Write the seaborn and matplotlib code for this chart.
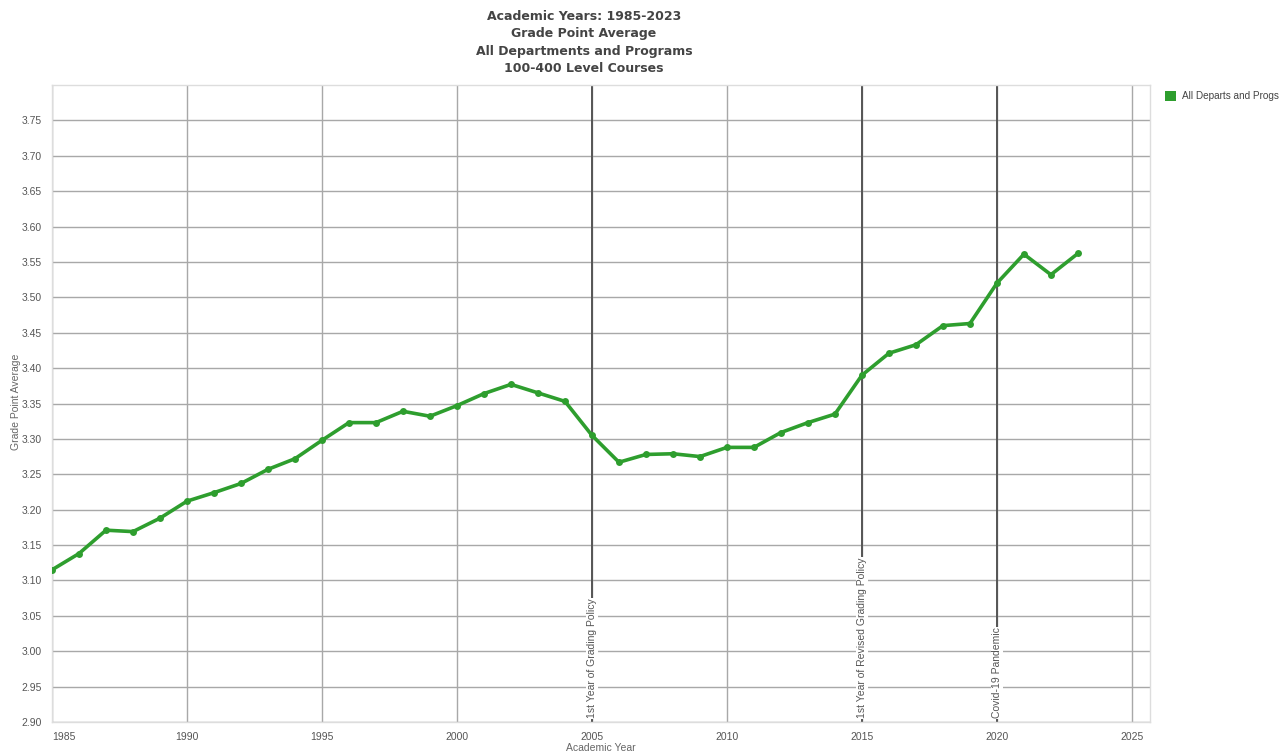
import numpy as np
import pandas as pd
import seaborn as sns
import matplotlib.pyplot as plt

# GPA by academic year
years = list(range(1985, 2024))
gpa = [3.115, 3.138, 3.171, 3.169, 3.188, 3.212, 3.224, 3.237, 3.257, 3.272,
       3.298, 3.323, 3.323, 3.339, 3.332, 3.347, 3.364, 3.377, 3.365, 3.353,
       3.305, 3.267, 3.278, 3.279, 3.275, 3.288, 3.288, 3.309, 3.323, 3.335,
       3.390, 3.421, 3.433, 3.460, 3.463, 3.520, 3.561, 3.532, 3.562]

event_years = [2005, 2015, 2020]
event_labels = ["1st Year of Grading Policy", "1st Year of Revised Grading Policy",
                "Covid-19 Pandemic"]

title_lines = ["Academic Years: 1985-2023", "Grade Point Average",
               "All Departments and Programs", "100-400 Level Courses"]
series_name = "All Departs and Progs"

df = pd.DataFrame({"Academic Year": years, "GPA": gpa, "series": series_name})

sns.set_style("white")
plt.rcParams['font.family'] = ['Liberation Sans', 'DejaVu Sans']

W, H = 1286, 755
fig = plt.figure(figsize=(W / 100, H / 100), dpi=100)
ax = fig.add_axes([52 / W, 1 - 722 / H, (1150 - 52) / W, (722 - 85) / H])

green = "#2e9e2e"
sns.lineplot(data=df, x="Academic Year", y="GPA", hue="series", palette=[green],
             marker="o", markersize=5, markeredgewidth=0, linewidth=2.6, ax=ax,
             legend=False, zorder=5)

ax.set_xlim(1985, 2025.67)
ax.set_ylim(2.90, 3.80)
yt = np.round(np.arange(2.90, 3.751, 0.05), 2)
ax.set_yticks(yt)
ax.set_yticklabels([f"{v:.2f}" for v in yt])
ax.set_xticks(range(1985, 2026, 5))
ax.set_xticks(range(1985, 2026), minor=True)

ax.grid(True, which="major", color="#a8a8a8", linewidth=1.0, zorder=0)
ax.set_axisbelow(True)

for s in ax.spines.values():
    s.set_color("#dddddd")
    s.set_linewidth(1.0)

ax.tick_params(axis="both", which="major", labelsize=7.5, labelcolor="#555555",
               color="#cccccc", length=4, direction="out")
ax.tick_params(axis="x", which="minor", color="#cccccc", length=3, direction="out")
ax.tick_params(axis="x", pad=3)
for lbl in ax.get_xticklabels():
    if lbl.get_text() == "1985":
        lbl.set_horizontalalignment("left")

ax.set_xlabel("")
ax.set_ylabel("")
fig.text(601 / W, 1 - 748 / H, "Academic Year", ha="center", va="center",
         fontsize=7.5, color="#666666")
fig.text(16 / W, 1 - 402 / H, "Grade Point Average", ha="center", va="center",
         rotation=90, fontsize=7.5, color="#666666")

# event markers
for yr, lab in zip(event_years, event_labels):
    ax.axvline(yr, color="#555555", linewidth=1.4, zorder=2)
    ax.text(yr, 2.905, lab, rotation=90, ha="center", va="bottom", fontsize=7.5,
            color="#555555", zorder=3,
            bbox=dict(facecolor="white", edgecolor="none", pad=0.5))

# title
fig.text(584 / W, 1 - 10 / H, "\n".join(title_lines), ha="center", va="top",
         fontsize=9, fontweight="bold", color="#444444", family="DejaVu Sans",
         linespacing=1.45)

# legend
handle = plt.Rectangle((0, 0), 1, 1, facecolor=green, edgecolor="none")
fig.legend([handle], [series_name], loc="upper left",
           bbox_to_anchor=(1156 / W, 1 - 82 / H), frameon=False,
           fontsize=7.2, handlelength=1.1, handleheight=1.1, handletextpad=0.6,
           labelcolor="#444444")

fig.savefig("out.png", dpi=100)
